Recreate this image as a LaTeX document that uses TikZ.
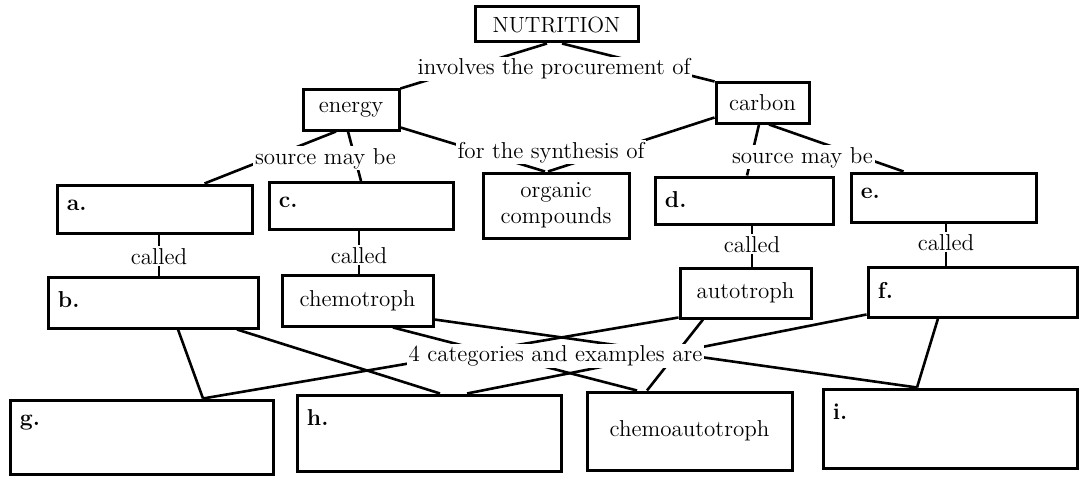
\documentclass[tikz,border=0pt]{standalone}
\usepackage{tikz}
\colorlet{boxEdge}{black}
\colorlet{linkLine}{black}

\begin{document}
\begin{tikzpicture}[
  x=0.5pt,
  y=-0.5pt,
  every node/.style={
    font=\fontsize{11.5}{13}\selectfont
  },
  box/.style 2 args={
    draw=boxEdge,
    line width=1.5pt,
    minimum width=#1*0.5pt,
    minimum height=#2*0.5pt,
    inner sep=2pt
  },
  tag/.style={
    label={[anchor=north west,inner xsep=5.5pt,inner ysep=8pt,font=\fontsize{11.5}{13}\selectfont\bfseries]north west:#1}
  },
  link/.style={
    draw=linkLine,
    line width=1.3pt
  },
  phrase/.style={
    fill=white,
    inner sep=0.8pt,
    anchor=base
  }
]
\useasboundingbox (0,0) rectangle (1080,476);
% boxes
\node[box={163}{35},font=\fontsize{11}{13}\selectfont] (nutrition) at (556.5,24.5) {NUTRITION};
\node[box={96}{40}] (energy) at (351,110) {energy};
\node[box={93}{40}] (carbon) at (762.5,103) {carbon};
\node[box={195}{48},tag=a.] (srcA) at (154.5,209) {};
\node[box={184}{47},tag=c.] (srcC) at (361,206) {};
\node[box={146}{65},align=center] (organic) at (556,205.5) {organic\\compounds};
\node[box={178}{47},tag=d.] (srcD) at (744,200.5) {};
\node[box={185}{49},tag=e.] (srcE) at (943.5,197.5) {};
\node[box={210}{51},tag=b.] (nameB) at (153,302.5) {};
\node[box={151}{51}] (chemo) at (357.5,300.5) {chemotroph};
\node[box={131}{50}] (auto) at (745.5,293) {autotroph};
\node[box={209}{50},tag=f.] (nameF) at (972.5,292) {};
\node[box={263}{74},tag=g.] (nameG) at (141.5,437) {};
\node[box={264}{76},tag=h.] (nameH) at (429,433) {};
\node[box={205}{78}] (chemoauto) at (689.5,431) {chemoautotroph};
\node[box={254}{79},tag=i.] (nameI) at (950,428.5) {};
% connectors
\draw[link] ([xshift=-4.75pt]nutrition.south) -- (energy.north east);
\draw[link] ([xshift=2.75pt]nutrition.south) -- (carbon.north west);
\draw[link] ([xshift=-7.5pt]energy.south) -- ([xshift=25pt]srcA.north);
\draw[link] ([xshift=-1.5pt]energy.south) -- (srcC.north);
\draw[link] ([yshift=2pt]energy.south east) -- ([xshift=-5.5pt]organic.north);
\draw[link] ([yshift=3.5pt]carbon.south west) -- ([xshift=-4pt]organic.north);
\draw[link] ([xshift=-1.75pt]carbon.south) -- ([xshift=1.5pt]srcD.north);
\draw[link] ([xshift=3.25pt]carbon.south) -- ([xshift=-20pt]srcE.north);
\foreach \up/\down/\dx in {srcA/nameB/2.25,srcC/chemo/-1,srcD/auto/4,srcE/nameF/1.25}
  \draw[link] ([xshift=\dx pt]\up.south) coordinate (top) -- (top |- \down.north);
\draw[link] ([xshift=12.5pt]nameB.south) -- ([xshift=30.75pt]nameG.north);
\draw[link] ([xshift=42pt]nameB.south) -- ([xshift=5.5pt]nameH.north);
\draw[link] ([xshift=17.75pt]chemo.south) -- ([xshift=-26.25pt]chemoauto.north);
\draw[link] ([yshift=4pt]chemo.south east) -- ([xshift=-16.5pt]nameI.north);
\draw[link] ([yshift=1pt]auto.south west) -- ([xshift=30.75pt]nameG.north);
\draw[link] ([xshift=-21.25pt]auto.south) -- ([xshift=-21.25pt]chemoauto.north);
\draw[link] ([yshift=2pt]nameF.south west) -- ([xshift=19pt]nameH.north);
\draw[link] ([xshift=-17.25pt]nameF.south) -- ([xshift=-16.5pt]nameI.north);
% phrases on the links
\node[phrase] (procure) at (554,75) {involves the procurement of};
\node[phrase] (synth) at (551,158) {for the synthesis of};
\node[phrase] (sourceE) at (325.5,164) {source may be};
\node[phrase] (sourceC) at (802.5,163) {source may be};
\foreach \k/\x/\y in {1/159/264,2/359/263,3/752/252,4/946/250}
  \node[phrase] (called\k) at (\x,\y) {called};
\node[phrase] (kinds) at (555.5,361.5) {4 categories and examples are};
\end{tikzpicture}
\end{document}
